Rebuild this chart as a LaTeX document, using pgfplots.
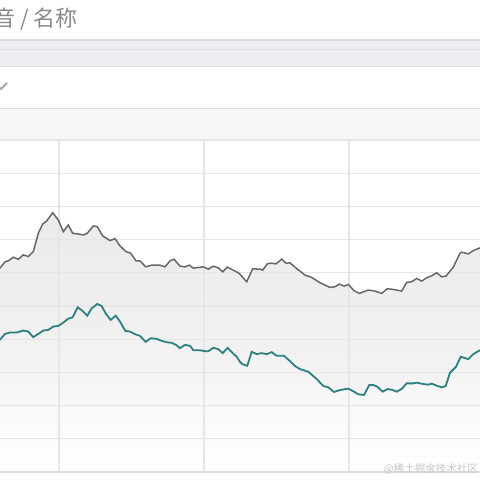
\documentclass[border=0pt]{standalone}
\usepackage{pgfplots}
\pgfplotsset{compat=1.18}
\usepackage{pgfplotstable}
\usepackage{fontspec}
\newfontfamily\cjk{Noto Sans CJK SC}
\definecolor{band}{HTML}{EEEEF3}
\definecolor{bandline}{HTML}{DCDCE3}
\definecolor{band2}{HTML}{F6F7F9}
\definecolor{gridc}{HTML}{E6E6E8}
\definecolor{grayline}{HTML}{676767}
\definecolor{tealline}{HTML}{2E8080}
\definecolor{titlec}{HTML}{8A8A8A}

\pgfplotstableread{
x v
0 6.14
5 6.33
8.3 6.36
13.3 6.47
18.3 6.41
23.3 6.54
28.3 6.49
33.3 6.64
38.3 7.19
42.7 7.47
46.7 7.56
52.7 7.81
58.3 7.59
63.3 7.24
68.3 7.44
72.7 7.19
78.3 7.17
83.3 7.14
87.3 7.19
93.3 7.41
97.3 7.39
102.7 7.11
110 6.97
115 7.03
120 6.81
126 6.64
130.7 6.59
136 6.36
140 6.36
145.7 6.18
151.7 6.23
160 6.23
165 6.18
170 6.36
174 6.41
180 6.20
185 6.18
189.3 6.23
193.3 6.14
203.3 6.18
208.3 6.11
213.3 6.20
218.3 6.15
222.7 6.03
227.3 6.17
233.3 6.08
239.3 5.98
246.7 5.73
252.7 6.12
260 6.11
262.7 6.08
267.3 6.27
270.7 6.29
276 6.27
281.7 6.41
286 6.29
290 6.30
295 6.17
305 5.93
311.7 5.86
320 5.70
330 5.56
335 5.58
339.3 5.66
344 5.60
348.3 5.65
354 5.46
359.3 5.38
368.3 5.48
375 5.45
381.7 5.38
387.3 5.52
393.3 5.50
401.7 5.45
406.7 5.71
411.7 5.73
416.7 5.83
421.7 5.75
426.7 5.85
431.7 5.91
436.7 6.00
441.7 5.88
446 5.90
453.3 6.17
460 6.59
461.7 6.62
468.3 6.57
473.3 6.67
480 6.75
}\grayseries

\pgfplotstableread{
x v
0 3.98
5 4.16
10 4.20
16.7 4.20
23.3 4.26
28.3 4.23
33.3 4.06
38.3 4.16
43.3 4.26
48.3 4.28
53.3 4.38
58.3 4.40
63.3 4.50
68.3 4.62
72.7 4.66
77.7 4.96
82.7 4.85
87.3 4.71
91.7 4.93
97.3 5.06
101.7 5.00
106 4.76
110.7 4.58
115.7 4.71
120 4.53
125.3 4.25
130 4.23
135 4.15
140 4.10
145.7 3.92
150.7 4.03
156.7 4.01
161.7 3.95
166.7 3.91
171.7 3.89
176 3.83
180 3.73
185 3.83
190 3.80
193.3 3.67
199.3 3.67
205 3.64
208.3 3.64
213.3 3.74
218.3 3.70
222.7 3.58
227.7 3.74
232.7 3.58
236.7 3.47
240 3.32
242.7 3.24
247.3 3.20
251.7 3.62
256.7 3.55
261.7 3.58
266.7 3.55
271.7 3.61
276.7 3.50
284 3.50
290 3.34
295 3.19
300 3.10
308.3 3.02
316.7 2.80
323.3 2.59
328.3 2.55
334 2.41
340 2.47
348.3 2.51
353.3 2.43
358.3 2.34
364 2.32
369.3 2.62
373.3 2.62
377.3 2.57
382.7 2.42
387.7 2.50
392.7 2.47
396.7 2.42
401.7 2.50
406.7 2.67
413.3 2.67
416.7 2.69
423.3 2.65
428.3 2.63
431.7 2.66
436.7 2.60
441.7 2.55
445.7 2.59
450 2.99
456 3.17
460.7 3.47
468.3 3.40
473.3 3.55
480 3.67
}\tealseries

\pgfplotsset{
  baseaxis/.style={
    at={(0pt,8pt)}, anchor=south west,
    scale only axis, width=480pt, height=332pt,
    xmin=0, xmax=480, ymin=0, ymax=10,
    axis line style={draw=none},
    xtick={59,204,349}, ytick={0,1,...,10},
    xticklabels={}, yticklabels={},
    major tick length=0pt,
  }
}

\begin{document}
\begin{tikzpicture}
\useasboundingbox (0,0) rectangle (480pt,480pt);
\clip (0,0) rectangle (480pt,480pt);
\fill[white] (0,0) rectangle (480pt,480pt);
% title
\node[anchor=west, inner sep=0pt, text=titlec, font=\cjk\fontsize{22}{26}\selectfont] at (-7pt,461pt) {音 / 名称};
% header bands
\fill[band] (0,413pt) rectangle (480pt,440pt);
\draw[bandline, line width=1.2pt] (0,440pt) -- (480pt,440pt);
\draw[bandline, line width=1.2pt] (0,430.5pt) -- (480pt,430.5pt);
\draw[bandline, line width=1.2pt] (0,413.5pt) -- (480pt,413.5pt);
\fill[band2] (0,340pt) rectangle (480pt,371.5pt);
\draw[bandline, line width=1.2pt] (0,371.5pt) -- (480pt,371.5pt);
% check mark
\draw[color=gray!70, line width=2pt] (-3pt,395pt) -- (1pt,391pt) -- (7pt,397pt);
% fills with grid on top
\begin{axis}[baseaxis,
  axis on top,
  grid=major,
  major grid style={gridc, line width=1.2pt},
]
\addplot[draw=none, top color=black!8, bottom color=black!3] table[x=x,y=v] {\grayseries} \closedcycle;
\addplot[draw=none, top color=black!7, bottom color=white] table[x=x,y=v] {\tealseries} \closedcycle;
\end{axis}
% lines above grid
\begin{axis}[baseaxis]
\addplot[grayline, line width=1.5pt, mark=none] table[x=x,y=v] {\grayseries};
\addplot[tealline, line width=1.8pt, mark=none] table[x=x,y=v] {\tealseries};
\end{axis}
\draw[bandline, line width=1.5pt] (0,8pt) -- (480pt,8pt);
\node[anchor=east, inner sep=0pt, text=black!22, font=\cjk\fontsize{10.5}{13}\selectfont] at (478pt,11pt) {@稀土掘金技术社区};
\end{tikzpicture}
\end{document}
